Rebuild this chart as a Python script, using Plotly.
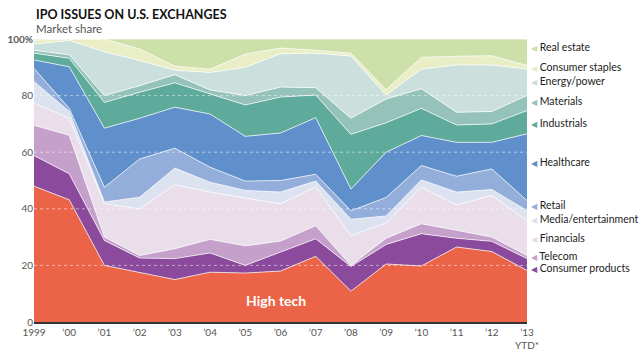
import plotly.graph_objects as go

years = list(range(1999, 2014))
tick_text = ["1999", "’00", "’01", "’02", "’03", "’04", "’05", "’06", "’07", "’08",
             "’09", "’10", "’11", "’12", "’13<br>YTD*"]

sectors = ["High tech", "Consumer products", "Telecom", "Financials", "Media/entertainment",
           "Retail", "Healthcare", "Industrials", "Materials", "Energy/power",
           "Consumer staples", "Real estate"]

high_tech = [48.0, 43.2, 20.0, 17.6, 15.0, 17.6, 17.3, 18.0, 23.2, 10.9, 20.5, 19.8, 26.5, 24.9, 18.2]
consumer_products = [10.8, 9.2, 8.8, 5.0, 7.4, 6.8, 2.7, 6.7, 6.2, 8.7, 6.9, 11.4, 3.1, 3.6, 4.2]
telecom = [10.7, 13.6, 1.2, 0.9, 3.5, 4.8, 6.9, 3.9, 4.6, 0.4, 2.2, 3.5, 2.8, 1.5, 1.1]
financials = [7.8, 6.0, 11.8, 16.5, 22.6, 16.7, 16.9, 13.2, 13.7, 10.5, 5.4, 12.9, 9.0, 14.7, 12.4]
media = [7.7, 2.4, 0.6, 4.1, 5.9, 3.5, 2.7, 4.1, 2.1, 5.8, 2.5, 2.6, 4.5, 2.1, 3.5]
retail = [4.6, 1.1, 5.2, 13.5, 7.0, 5.3, 3.3, 4.1, 2.4, 3.0, 6.5, 5.1, 5.6, 7.3, 3.5]
healthcare = [3.0, 14.7, 20.9, 14.4, 14.5, 18.8, 15.8, 16.8, 20.0, 7.7, 16.0, 10.6, 12.0, 9.4, 23.6]
industrials = [2.4, 3.0, 9.1, 9.2, 8.6, 7.0, 11.1, 12.7, 8.0, 19.3, 10.4, 9.6, 6.1, 6.5, 8.2]
materials = [1.0, 1.2, 2.4, 2.3, 2.9, 1.5, 3.3, 3.5, 2.6, 5.7, 8.4, 6.9, 4.5, 4.4, 5.3]
energy = [2.2, 5.1, 15.5, 8.9, 1.6, 6.2, 10.0, 11.8, 12.2, 22.0, 1.4, 7.0, 16.7, 16.4, 9.4]
staples = [1.4, 0.5, 4.5, 4.1, 1.4, 1.1, 4.7, 2.0, 1.0, 1.0, 1.9, 4.1, 3.1, 3.3, 1.2]
real_estate = [0.4, 0.0, 0.0, 3.5, 9.6, 10.7, 5.3, 3.2, 4.0, 5.0, 17.9, 6.5, 6.1, 5.9, 9.4]

series = [high_tech, consumer_products, telecom, financials, media, retail,
          healthcare, industrials, materials, energy, staples, real_estate]

colors = ["#EC6448", "#8B4A9B", "#C4A0CB", "#E9DEEA", "#DDE2F1", "#94AEDB",
          "#6090CB", "#5EAA9B", "#95C3B9", "#CBE0DD", "#E9EEC6", "#CDE0AA"]

# label positions (value axis) for right-hand labels
label_y = [None, 19.2, 23.5, 29.8, 36.5, 41.5, 56.7, 70.4, 78.2, 85.2, 90.2, 97.2]
grid_vals = [20, 40, 60, 80]

fig = go.Figure()
for name, vals, col in zip(sectors, series, colors):
    fig.add_trace(go.Scatter(
        x=years, y=vals, name=name, mode="lines",
        stackgroup="one", groupnorm="percent",
        line=dict(color="white", width=0.7),
        fillcolor=col, hoverinfo="skip",
    ))

FONT = "Lato"
annotations = []
for name, col, ly in zip(sectors, colors, label_y):
    if ly is None:
        continue
    annotations.append(dict(
        xref="paper", x=1, xanchor="left", xshift=2,
        yref="y", y=ly, yanchor="middle",
        text=f"<span style='color:{col};font-size:8px'>◀</span> {name}",
        showarrow=False, font=dict(family=FONT, size=10.5, color="#222"),
    ))

annotations.append(dict(
    xref="x", x=2005.86, yref="y", y=7.6, text="<b>High tech</b>",
    showarrow=False, font=dict(family=FONT, size=14, color="white"),
))
annotations.append(dict(
    xref="paper", x=0, xanchor="left", xshift=-0.5, yref="paper", y=1, yanchor="middle", yshift=25,
    text="<b>IPO ISSUES ON U.S. EXCHANGES</b>", showarrow=False,
    font=dict(family=FONT, size=12.5, color="#111"),
))
annotations.append(dict(
    xref="paper", x=0, xanchor="left", yref="paper", y=1, yanchor="middle", yshift=11,
    text="Market share", showarrow=False,
    font=dict(family=FONT, size=11.5, color="#555"),
))

shapes = [dict(type="line", xref="paper", x0=0, x1=1, yref="y", y0=g, y1=g,
               line=dict(color="rgba(255,255,255,0.5)", width=1, dash="dot"), layer="above")
          for g in grid_vals]

fig.update_layout(
    width=640, height=352,
    margin=dict(l=34, r=113, t=39, b=29.5),
    paper_bgcolor="white", plot_bgcolor="white",
    showlegend=False,
    annotations=annotations, shapes=shapes,
    font=dict(family=FONT, size=10, color="#555"),
    xaxis=dict(range=[1999, 2013], tickvals=years, ticktext=tick_text,
               showgrid=False, zeroline=False, showline=True, automargin=False,
               linecolor="#333", linewidth=2, ticks="",
               tickfont=dict(family=FONT, size=10, color="#555")),
    yaxis=dict(range=[0, 100], tickvals=[0, 20, 40, 60, 80, 100],
               ticktext=["0", "20", "40", "60", "80", "<b>100%</b>"],
               showgrid=False, zeroline=False, showline=False, ticks="", automargin=False,
               tickfont=dict(family=FONT, size=10, color="#555")),
)

fig.write_html("out.html")
